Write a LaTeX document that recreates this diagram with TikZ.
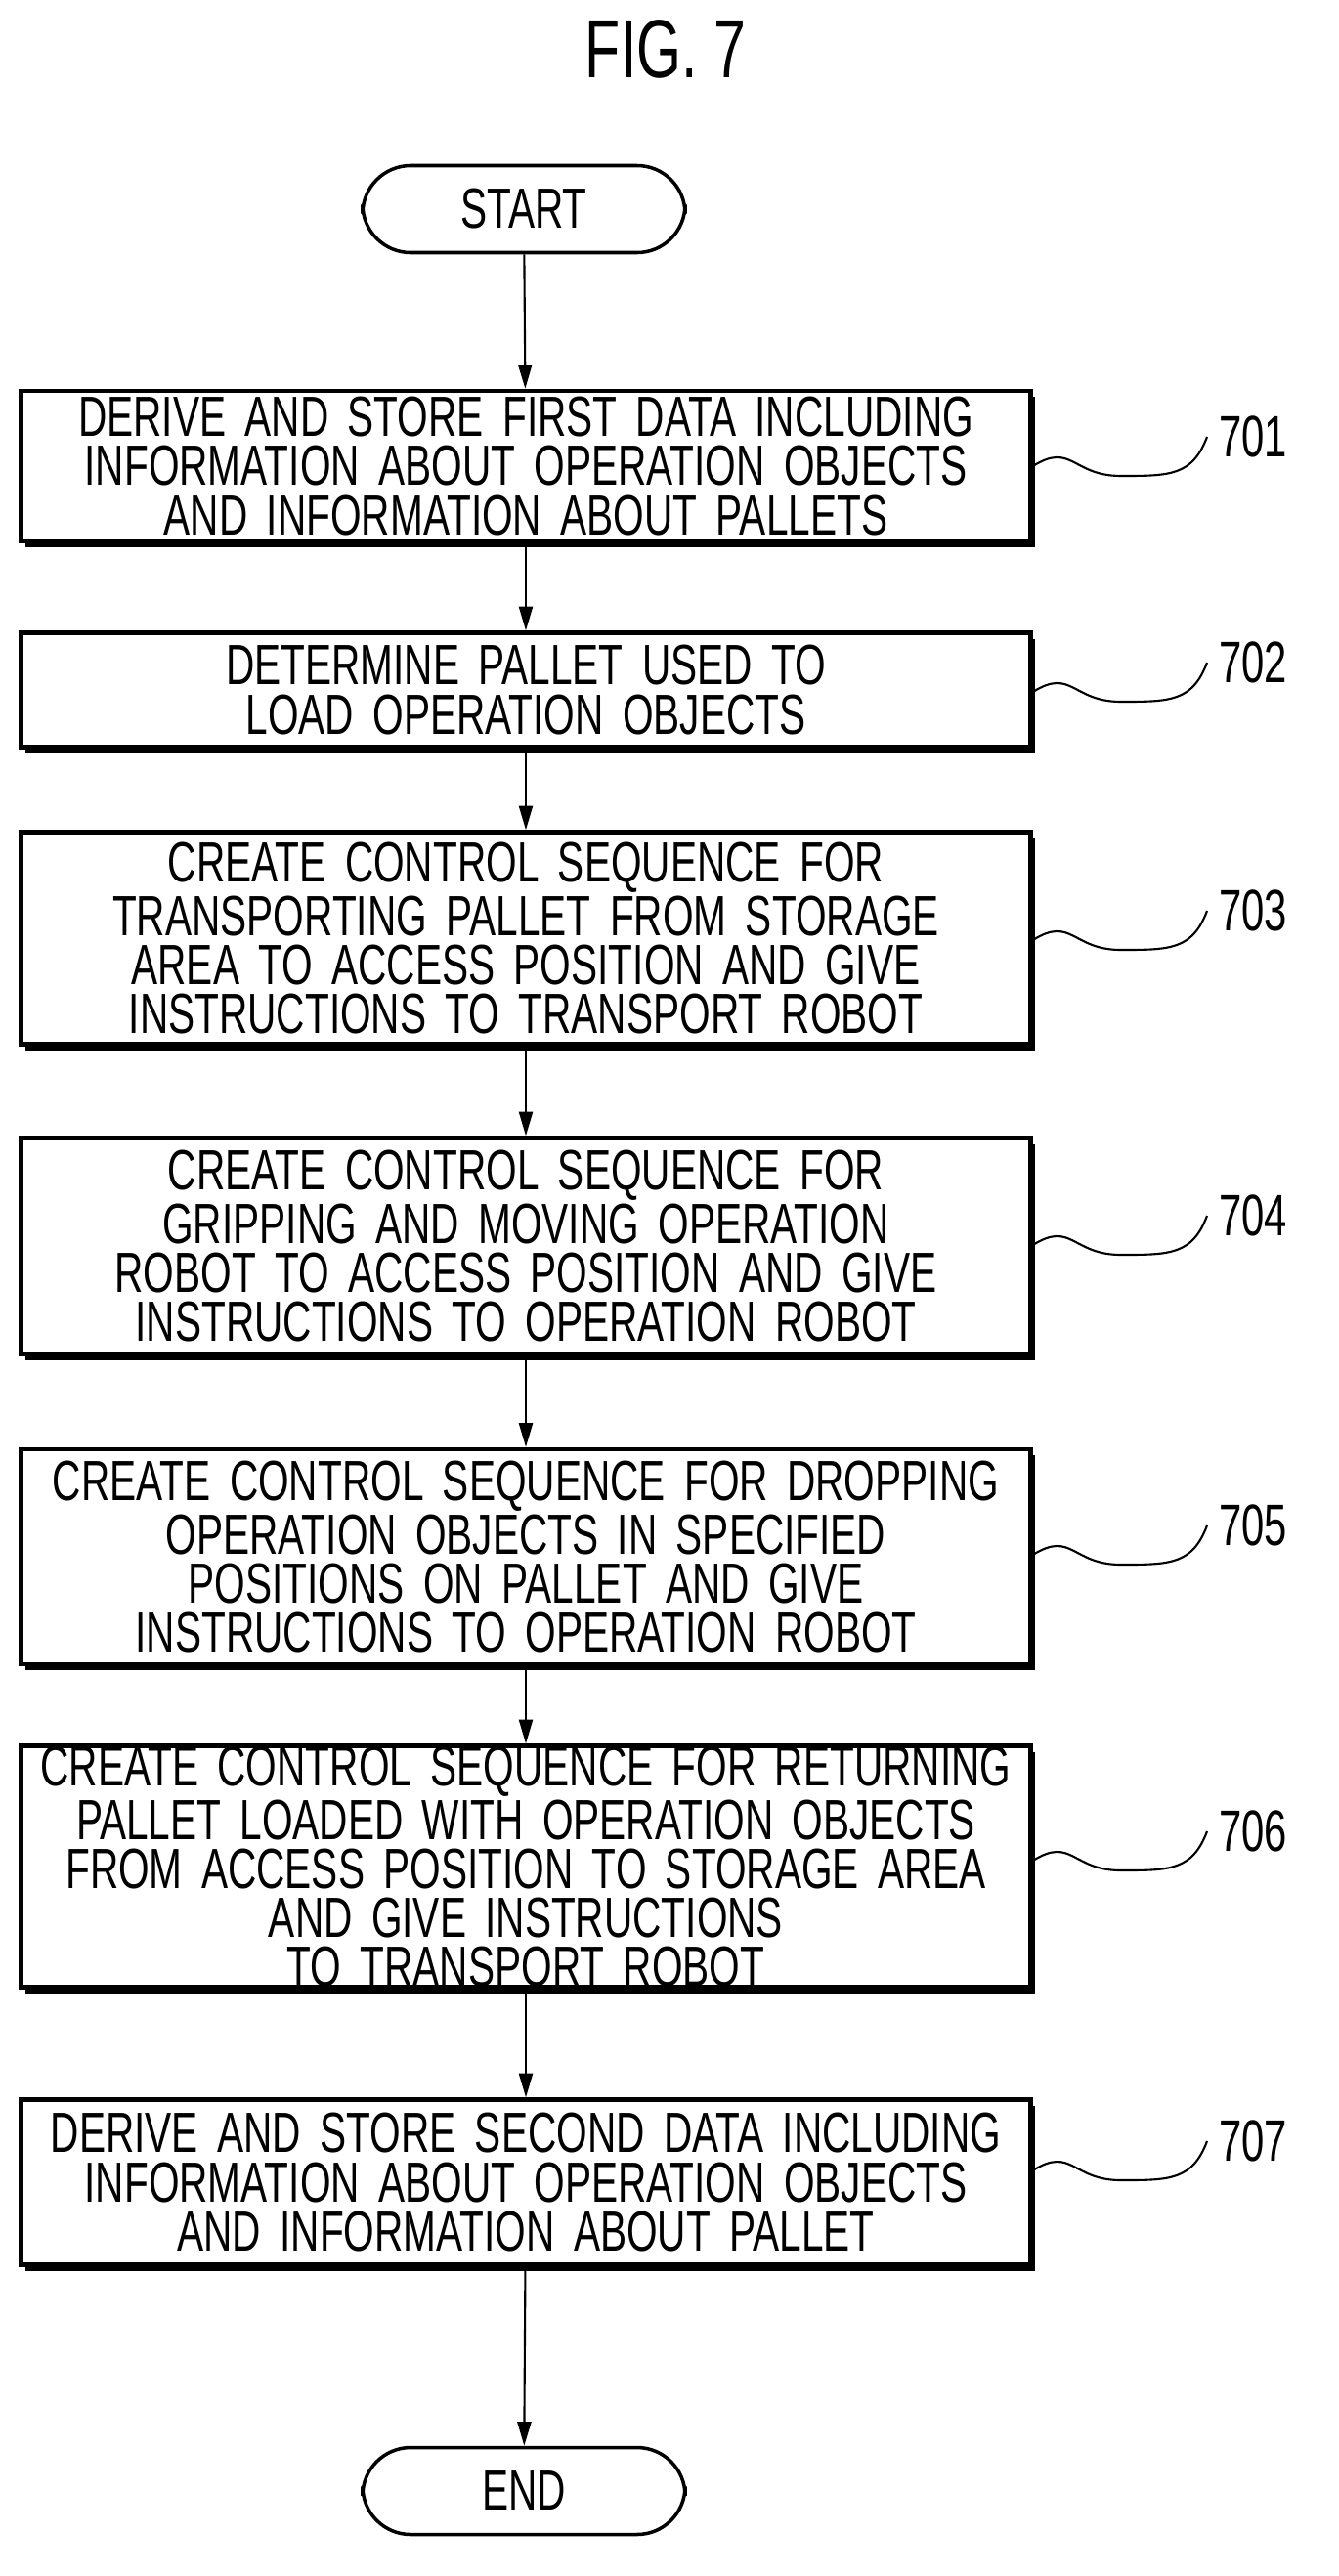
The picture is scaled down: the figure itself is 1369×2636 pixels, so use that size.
\documentclass[tikz,border=0pt]{standalone}
\usepackage{fontspec}
\setmainfont{Liberation Sans}[FakeStretch=0.70]
\usetikzlibrary{arrows.meta,decorations.pathmorphing}
\begin{document}
\begin{tikzpicture}[x=0.01cm,y=-0.01cm,
  box/.style={draw,line width=1.3pt,fill=white,minimum width=1033*0.01cm,text width=1020*0.01cm,inner sep=0pt,align=center,
    font=\fontsize{16.5}{14.3}\selectfont,
    preaction={fill=black,transform canvas={xshift=1.2pt,yshift=-1.8pt}}},
  term/.style={draw,line width=1pt,rounded corners=14pt,minimum width=330*0.01cm,minimum height=89*0.01cm,font=\fontsize{16.5}{16}\selectfont},
  arr/.style={-{Triangle[length=7pt,width=4pt]},line width=0.6pt},
  lab/.style={font=\fontsize{17}{16}\selectfont,anchor=west},
  wave/.style={line width=0.6pt}]
\useasboundingbox (0,0) rectangle (1369,2636);
\node[font=\fontsize{24}{24}\selectfont] (title) at (681,50) {FIG. 7};
\node[term] (start) at (536,214) {START};
\node[box,minimum height=154*0.01cm] (b1) at (538,477) {DERIVE AND STORE FIRST DATA INCLUDING\\INFORMATION ABOUT OPERATION OBJECTS\\AND INFORMATION ABOUT PALLETS};
\node[box,minimum height=117*0.01cm] (b2) at (538,706) {DETERMINE PALLET USED TO\\LOAD OPERATION OBJECTS};
\node[box,minimum height=217*0.01cm] (b3) at (538,960) {CREATE CONTROL SEQUENCE FOR\\TRANSPORTING PALLET FROM STORAGE\\AREA TO ACCESS POSITION AND GIVE\\INSTRUCTIONS TO TRANSPORT ROBOT};
\node[box,minimum height=221*0.01cm] (b4) at (538,1275) {CREATE CONTROL SEQUENCE FOR\\GRIPPING AND MOVING OPERATION\\ROBOT TO ACCESS POSITION AND GIVE\\INSTRUCTIONS TO OPERATION ROBOT};
\node[box,minimum height=220*0.01cm] (b5) at (538,1593) {CREATE CONTROL SEQUENCE FOR DROPPING\\OPERATION OBJECTS IN SPECIFIED\\POSITIONS ON PALLET AND GIVE\\INSTRUCTIONS TO OPERATION ROBOT};
\node[box,minimum height=221*0.01cm] (b6) at (538,1910) {CREATE CONTROL SEQUENCE FOR RETURNING\\PALLET LOADED WITH OPERATION OBJECTS\\FROM ACCESS POSITION TO STORAGE AREA\\AND GIVE INSTRUCTIONS TO TRANSPORT ROBOT};
\node[box,minimum height=169*0.01cm] (b7) at (538,2233) {DERIVE AND STORE SECOND DATA INCLUDING\\INFORMATION ABOUT OPERATION OBJECTS\\AND INFORMATION ABOUT PALLET};
\node[term] (end) at (536,2549) {END};
\draw[arr] (start) -- (b1);
\draw[arr] (b1) -- (b2);
\draw[arr] (b2) -- (b3);
\draw[arr] (b3) -- (b4);
\draw[arr] (b4) -- (b5);
\draw[arr] (b5) -- (b6);
\draw[arr] (b6) -- (b7);
\draw[arr] (b7) -- (end);
\foreach \b/\t/\y in {b1/701/447,b2/702/678,b3/703/932,b4/704/1244,b5/705/1561,b6/706/1874,b7/707/2191}{
  \node[lab] (l\t) at (1235,\y) {\t};
  \draw[wave] (\b.east |- 0,\y+30) .. controls +(40,-25) and +(-50,0) .. +(90,10)
     .. controls +(50,0) and +(-15,40) .. (l\t.west);
}
\end{tikzpicture}
\end{document}
